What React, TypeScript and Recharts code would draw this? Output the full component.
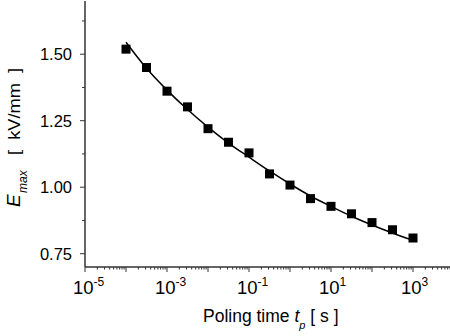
import React from 'react';
import { ComposedChart, XAxis, YAxis, Scatter, Line } from 'recharts';

// Poling time t_p [s]
const poleTimes = [1e-4, 3.16e-4, 1e-3, 3.16e-3, 0.01, 0.0316, 0.1, 0.316, 1, 3.16, 10, 31.6, 100, 316, 1000];
// Measured E_max [kV/mm]
const emaxMeasured = [1.519, 1.45, 1.361, 1.302, 1.22, 1.169, 1.129, 1.05, 1.008, 0.957, 0.928, 0.9, 0.867, 0.84, 0.809];
// Fitted curve E_max [kV/mm]
const emaxFit = [1.545, 1.447, 1.365, 1.292, 1.226, 1.166, 1.113, 1.061, 1.012, 0.967, 0.928, 0.891, 0.858, 0.828, 0.8];

const xDecades = [1e-5, 1e-4, 1e-3, 1e-2, 1e-1, 1, 10, 100, 1000, 10000];
const xLabelExponents = [-5, -3, -1, 1, 3];
const yMajorTicks = [0.75, 1.0, 1.25, 1.5];
const yMinorTicks = [0.875, 1.125, 1.375, 1.625];

const measuredData = poleTimes.map((t, i) => ({ t, e: emaxMeasured[i] }));
const fitData = poleTimes.map((t, i) => ({ t, e: emaxFit[i] }));

const xMinor: number[] = [];
for (let i = 0; i < xDecades.length - 1; i++) {
  for (let m = 2; m <= 9; m++) xMinor.push(m * xDecades[i]);
}
const xTicks = [...xDecades, ...xMinor].sort((a, b) => a - b);
const yTicks = [...yMajorTicks, ...yMinorTicks].sort((a, b) => a - b);

const FONT = '"Liberation Sans", Arial, sans-serif';
const AXIS = '#333';

const XTick = (props: any) => {
  const { x, y, payload } = props;
  const v = payload.value as number;
  const lg = Math.log10(v);
  const e = Math.round(lg);
  const decade = Math.abs(lg - e) < 1e-6;
  const len = decade ? 5 : 2.5;
  const labeled = decade && xLabelExponents.includes(e);
  return (
    <g>
      <line x1={x} x2={x} y1={y} y2={y + len} stroke={AXIS} strokeWidth={1} />
      {labeled && (
        <text x={x - 12} y={y + 27} fontFamily={FONT} fontSize={18.5} fill="#000">
          <tspan>10</tspan>
          <tspan fontSize={12} dy={-8}>{String(e)}</tspan>
        </text>
      )}
    </g>
  );
};

const YTick = (props: any) => {
  const { x, y, payload } = props;
  const v = payload.value as number;
  const major = yMajorTicks.includes(v);
  const len = major ? 5 : 3;
  return (
    <g>
      <line x1={x - len} x2={x} y1={y} y2={y} stroke={AXIS} strokeWidth={1} />
      {major && (
        <text x={x - 13} y={y + 6} textAnchor="end" fontFamily={FONT} fontSize={16.5} fill="#000">
          {v.toFixed(2)}
        </text>
      )}
    </g>
  );
};

const SquareShape = (props: any) => {
  const { cx, cy } = props;
  if (cx == null || cy == null) return null;
  return <rect x={cx - 4.5} y={cy - 4.5} width={9} height={9} fill="#000" />;
};

export default function App() {
  return (
    <div style={{ position: 'absolute', left: 0, top: 0, width: 450, height: 336, overflow: 'hidden', background: '#fff' }}>
      <ComposedChart width={470} height={336} margin={{ top: 1, right: 16, left: 0, bottom: 0 }}>
        <XAxis
          dataKey="t"
          type="number"
          scale="log"
          domain={[1e-5, 1e4]}
          allowDataOverflow
          ticks={xTicks}
          interval={0}
          tickSize={0}
          tickMargin={0}
          tickLine={false}
          tick={XTick}
          axisLine={{ stroke: AXIS, strokeWidth: 1.5 }}
          height={69}
        />
        <XAxis
          xAxisId="top"
          orientation="top"
          dataKey="t"
          type="number"
          scale="log"
          domain={[1e-5, 1e4]}
          allowDataOverflow
          tick={false}
          tickLine={false}
          axisLine={{ stroke: '#999', strokeWidth: 2 }}
          height={0}
        />
        <YAxis
          dataKey="e"
          type="number"
          domain={[0.7, 1.7]}
          allowDataOverflow
          ticks={yTicks}
          interval={0}
          tickSize={0}
          tickMargin={0}
          tickLine={false}
          tick={YTick}
          axisLine={{ stroke: AXIS, strokeWidth: 1.5 }}
          width={85}
        />
        <Line
          data={fitData}
          dataKey="e"
          type="monotone"
          stroke="#000"
          strokeWidth={1.5}
          dot={false}
          activeDot={false}
          isAnimationActive={false}
        />
        <Scatter data={measuredData} dataKey="e" shape={SquareShape} isAnimationActive={false} />
        <text x={203} y={322} fontFamily={FONT} fontSize={17.5} fill="#000" style={{ whiteSpace: 'pre' }}>
          <tspan>Poling time </tspan>
          <tspan fontStyle="italic">t</tspan>
          <tspan fontStyle="italic" fontSize={11} dy={7}>p</tspan>
          <tspan dy={-7}>{'\u00A0[ s ]'}</tspan>
        </text>
        <text
          transform="translate(20, 207) rotate(-90)"
          x={0}
          y={0}
          fontFamily={FONT}
          fontSize={19}
          fontStyle="italic"
          fill="#000"
        >
          E
        </text>
        <text
          transform="translate(27, 193) rotate(-90)"
          x={0}
          y={0}
          fontFamily={FONT}
          fontSize={12}
          fontStyle="italic"
          fill="#000"
        >
          max
        </text>
        <text
          transform="translate(20, 155) rotate(-90)"
          x={0}
          y={0}
          fontFamily={FONT}
          fontSize={17}
          fill="#000"
          textLength={87}
          lengthAdjust="spacingAndGlyphs"
        >
          {'[\u00A0\u00A0kV/mm\u00A0\u00A0]'}
        </text>
      </ComposedChart>
    </div>
  );
}
